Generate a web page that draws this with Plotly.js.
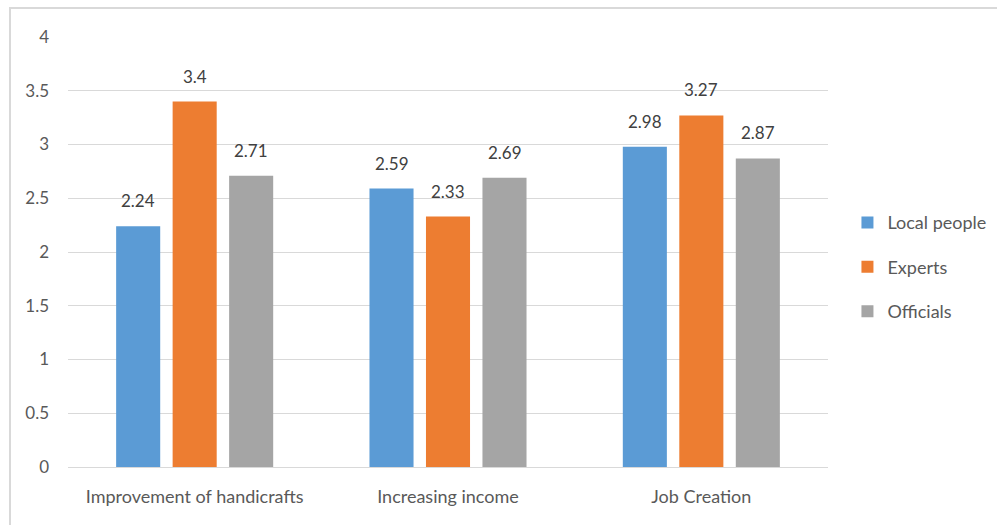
<!DOCTYPE html>
<html>
<head>
<meta charset="utf-8">
<script src="https://cdn.plot.ly/plotly-3.0.1.min.js"></script>
<style>
  html, body { margin: 0; padding: 0; background: #fff; }
  #chart { width: 997px; height: 525px; }
</style>
</head>
<body>
<div id="chart"></div>
<script>
// Mean scores by impact area and respondent group
const categories = ["Improvement of handicrafts", "Increasing income", "Job Creation"];
const seriesNames = ["Local people", "Experts", "Officials"];
const localPeople = [2.24, 2.59, 2.98];
const experts = [3.4, 2.33, 3.27];
const officials = [2.71, 2.69, 2.87];
const seriesColors = ["#5B9BD5", "#ED7D31", "#A5A5A5"];
const yTicks = [0, 0.5, 1, 1.5, 2, 2.5, 3, 3.5, 4];

const seriesValues = [localPeople, experts, officials];
const FONT = "Lato, 'Open Sans', sans-serif";

const traces = seriesValues.map((vals, i) => ({
  type: "bar",
  name: seriesNames[i],
  x: categories,
  y: vals,
  marker: { color: seriesColors[i] },
  legendgroup: "g" + i,
  hoverinfo: "x+y+name"
}));

// value labels sit a little above each bar, offset to the bar's slot
const slot = 56.5;
const annotations = [];
seriesValues.forEach((vals, i) => {
  vals.forEach((v, j) => {
    annotations.push({
      x: categories[j], y: v, xref: "x", yref: "y",
      text: String(v), showarrow: false,
      xanchor: "center", yanchor: "bottom",
      xshift: (i - 1) * slot, yshift: 13,
      font: { family: FONT, size: 17, color: "#404040" }
    });
  });
});

const layout = {
  width: 997, height: 525,
  margin: { l: 68, r: 169, t: 37, b: 58 },
  paper_bgcolor: "#ffffff",
  plot_bgcolor: "#ffffff",
  barmode: "group",
  bargap: 0.331,
  bargroupgap: 0.22,
  font: { family: FONT, size: 17, color: "#595959" },
  xaxis: {
    type: "category",
    showgrid: false,
    showline: true, linecolor: "#d9d9d9", linewidth: 1,
    ticks: "", ticklabelstandoff: 13,
    tickfont: { family: FONT, size: 18, color: "#595959" }
  },
  yaxis: {
    range: [0, 4],
    tickvals: yTicks,
    ticktext: yTicks.map(String),
    showgrid: true, gridcolor: "#d9d9d9", gridwidth: 1,
    zeroline: false, showline: false,
    ticks: "", ticklabelstandoff: 18,
    tickfont: { family: FONT, size: 17, color: "#595959" }
  },
  legend: {
    xref: "container", yref: "container",
    x: 0.850, xanchor: "left",
    y: 0.491, yanchor: "middle",
    tracegroupgap: 18,
    font: { family: FONT, size: 18, color: "#595959" },
    itemwidth: 30
  },
  annotations: annotations,
  shapes: [{
    type: "rect", xref: "paper", yref: "paper",
    x0: -0.0763, x1: 1.2237, y0: -0.1465, y1: 1.0674,
    line: { color: "#d9d9d9", width: 2 },
    fillcolor: "rgba(0,0,0,0)", layer: "below"
  }],
  showlegend: true
};

Plotly.newPlot("chart", traces, layout, { displayModeBar: false, staticPlot: true });
</script>
</body>
</html>
